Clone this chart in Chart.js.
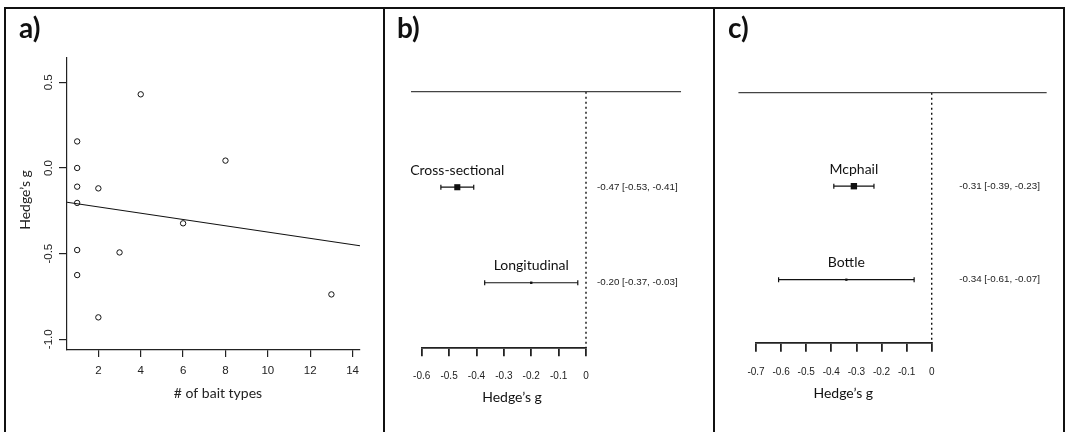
<!DOCTYPE html>
<html>
<head>
<meta charset="utf-8">
<script src="https://cdn.jsdelivr.net/npm/chart.js@4.4.1/dist/chart.umd.min.js"></script>
<style>
  body { margin: 0; background: #fff; }
  #wrap { position: relative; width: 1068px; height: 432px; overflow: hidden; background: #fff; }
  canvas { position: absolute; left: 0; top: 0; }
  .frame { position: absolute; background: #111; }
</style>
</head>
<body>
<div id="wrap">
  <div class="frame" style="left:4px;top:7px;width:1061px;height:2px"></div>
  <div class="frame" style="left:4px;top:7px;width:2px;height:430px"></div>
  <div class="frame" style="left:1063px;top:7px;width:2px;height:430px"></div>
  <div class="frame" style="left:383px;top:7px;width:2px;height:430px"></div>
  <div class="frame" style="left:713px;top:7px;width:2px;height:430px"></div>
  <canvas id="panel_a" width="1068" height="432"></canvas>
  <canvas id="panel_b" width="1068" height="432"></canvas>
  <canvas id="panel_c" width="1068" height="432"></canvas>
</div>
<script>
  // a) effect size vs number of bait types
  const baitTypes = [1, 1, 1, 1, 1, 1, 2, 2, 3, 4, 6, 8, 13]
  const baitHedgesG = [0.155, 0.0, -0.109, -0.204, -0.479, -0.625, -0.119, -0.872, -0.493, 0.43, -0.323, 0.043, -0.738]
  const fitLineX = [0.52, 14.35]
  const fitLineY = [-0.2, -0.454]
  const baitXTicks = [2, 4, 6, 8, 10, 12, 14]
  const baitYTicks = [-1.0, -0.5, 0.0, 0.5]

  // b) study design
  const designLabels = ["Cross-sectional", "Longitudinal"]
  const designEst = [-0.47, -0.20]
  const designLo = [-0.53, -0.37]
  const designHi = [-0.41, -0.03]
  const designTicks = [-0.6, -0.5, -0.4, -0.3, -0.2, -0.1, 0]
  const designHeaderSpan = [-0.639, 0.347]
  const designHeaderMark = [0.04]

  // c) trap type
  const trapLabels = ["Mcphail", "Bottle"]
  const trapEst = [-0.31, -0.34]
  const trapLo = [-0.39, -0.61]
  const trapHi = [-0.23, -0.07]
  const trapTicks = [-0.7, -0.6, -0.5, -0.4, -0.3, -0.2, -0.1, 0]
  const trapHeaderSpan = [-0.77, 0.458]
  const trapHeaderMark = [0.077]

  const rowY = [2, 1]
  const headerRow = 3
  const rowMin = 0.32

  const ink = '#111'
  const labelFont = 'Lato, "Open Sans", sans-serif'
  const tickFont = '"Liberation Sans", Arial, sans-serif'

  const fmtCI = (e, lo, hi) => `${e.toFixed(2)} [${lo.toFixed(2)}, ${hi.toFixed(2)}]`

  const drawTag = (ctx, text, x) => {
    ctx.font = `bold 28px ${labelFont}`
    ctx.fillStyle = ink
    ctx.textAlign = 'left'
    ctx.textBaseline = 'alphabetic'
    ctx.fillText(text, x, 38)
  }

  // ----- panel a -----
  new Chart(document.getElementById('panel_a'), {
    type: 'scatter',
    data: {
      datasets: [{
        data: baitTypes.map((x, i) => ({x: x, y: baitHedgesG[i]})),
        pointStyle: 'circle',
        pointRadius: 2.7,
        pointBorderWidth: 1,
        pointBorderColor: ink,
        pointBackgroundColor: 'rgba(255,255,255,0)'
      }, {
        data: fitLineX.map((x, i) => ({x: x, y: fitLineY[i]})),
        showLine: true,
        borderColor: ink,
        borderWidth: 1.1,
        pointRadius: 0
      }]
    },
    options: {
      responsive: false,
      animation: false,
      events: [],
      layout: {padding: {left: 37, top: 58, right: 708, bottom: 42}},
      plugins: {legend: {display: false}, tooltip: {enabled: false}},
      scales: {
        x: {
          type: 'linear', min: 0.52, max: 14.35,
          afterBuildTicks: s => { s.ticks = baitXTicks.map(v => ({value: v})) },
          afterFit: s => { s.height = 40 },
          border: {color: '#222', width: 1.2},
          grid: {drawOnChartArea: false, tickLength: 7, color: '#222', lineWidth: 1.2},
          ticks: {font: {family: tickFont, size: 11.5}, color: '#222', padding: 7, maxRotation: 0, autoSkip: false}
        },
        y: {
          type: 'linear', min: -1.0625, max: 0.642,
          afterBuildTicks: s => { s.ticks = baitYTicks.map(v => ({value: v})) },
          afterFit: s => { s.width = 30 },
          border: {color: '#222', width: 1.2},
          grid: {drawOnChartArea: false, tickLength: 8, color: '#222', lineWidth: 1.2},
          ticks: {display: false}
        }
      }
    },
    plugins: [{
      id: 'panelAText',
      afterDraw(chart) {
        const ctx = chart.ctx
        const yScale = chart.scales.y
        ctx.save()
        ctx.fillStyle = '#222'
        ctx.textAlign = 'center'
        ctx.textBaseline = 'middle'
        ctx.font = `11.5px ${tickFont}`
        yScale.ticks.forEach(t => {
          ctx.save()
          ctx.translate(49, yScale.getPixelForValue(t.value))
          ctx.rotate(-Math.PI / 2)
          ctx.fillText(t.value.toFixed(1), 0, 0)
          ctx.restore()
        })
        ctx.font = `14px ${labelFont}`
        ctx.save()
        ctx.translate(25, 200)
        ctx.rotate(-Math.PI / 2)
        ctx.fillText('Hedge\u2019s g', 0, 0)
        ctx.restore()
        ctx.fillText('# of bait types', 218, 393)
        drawTag(ctx, 'a)', 19)
        ctx.restore()
      }
    }]
  })

  // ----- forest panels -----
  const forestChart = (canvasId, cfg) => {
    const rows = cfg.labels.map((name, i) => i)
    const ciSets = rows.map(i => ({
      data: [{x: cfg.lo[i], y: rowY[i]}, {x: cfg.hi[i], y: rowY[i]}],
      showLine: true,
      borderColor: ink,
      borderWidth: 1.2,
      pointStyle: 'line',
      rotation: 90,
      pointRadius: 2.5,
      pointBorderWidth: 1.2,
      pointBorderColor: ink
    }))
    return new Chart(document.getElementById(canvasId), {
      type: 'scatter',
      data: {
        datasets: [{
          data: cfg.headerSpan.map(x => ({x: x, y: headerRow})),
          showLine: true,
          borderColor: '#444',
          borderWidth: 1.3,
          pointRadius: 0,
          clip: false
        }, {
          data: cfg.headerMark.map(x => ({x: x, y: headerRow})),
          pointStyle: 'rect',
          pointRadius: 1.1,
          pointBackgroundColor: ink,
          pointBorderWidth: 0,
          clip: false
        }, {
          data: [{x: 0, y: headerRow}, {x: 0, y: rowMin}],
          showLine: true,
          borderColor: ink,
          borderWidth: 1.4,
          borderDash: [2, 3],
          pointRadius: 0,
          clip: false
        },
        ...ciSets,
        {
          data: cfg.est.map((e, i) => ({x: e, y: rowY[i]})),
          pointStyle: 'rect',
          pointRadius: cfg.markRadius,
          pointBackgroundColor: ink,
          pointBorderWidth: 0,
          clip: false
        }]
      },
      options: {
        responsive: false,
        animation: false,
        events: [],
        layout: {padding: {left: cfg.left, top: cfg.top, right: 1068 - cfg.right, bottom: 432 - cfg.bottom - 40}},
        plugins: {legend: {display: false}, tooltip: {enabled: false}},
        scales: {
          x: {
            type: 'linear', min: cfg.ticks[0], max: 0,
            afterBuildTicks: s => { s.ticks = cfg.ticks.map(v => ({value: v})) },
            afterFit: s => { s.height = 40 },
            border: {color: '#222', width: 1.8},
            grid: {drawOnChartArea: false, tickLength: 8.5, color: '#222', lineWidth: 1.8},
            ticks: {
              font: {family: tickFont, size: 10}, color: '#222', padding: cfg.tickPad,
              maxRotation: 0, autoSkip: false,
              callback: v => v === 0 ? '0' : v.toFixed(1)
            }
          },
          y: {type: 'linear', min: rowMin, max: headerRow, display: false}
        }
      },
      plugins: [{
        id: 'forestText',
        afterDraw(chart) {
          const ctx = chart.ctx
          const xs = chart.scales.x
          const ys = chart.scales.y
          ctx.save()
          ctx.fillStyle = '#111'
          rows.forEach(i => {
            const py = ys.getPixelForValue(rowY[i])
            ctx.font = `14px ${labelFont}`
            ctx.textAlign = 'center'
            ctx.textBaseline = 'middle'
            ctx.fillText(cfg.labels[i], xs.getPixelForValue(cfg.est[i]), py - 17)
            ctx.font = `9.8px ${tickFont}`
            ctx.textAlign = 'left'
            ctx.fillStyle = '#222'
            ctx.fillText(fmtCI(cfg.est[i], cfg.lo[i], cfg.hi[i]), chart.chartArea.right + cfg.annotOffset, py)
            ctx.fillStyle = '#111'
          })
          ctx.font = `14px ${labelFont}`
          ctx.textAlign = 'center'
          ctx.textBaseline = 'middle'
          ctx.fillText('Hedge\u2019s g', cfg.titleX, cfg.titleY)
          drawTag(ctx, cfg.tag, cfg.tagX)
          ctx.restore()
        }
      }]
    })
  }

  forestChart('panel_b', {
    labels: designLabels, est: designEst, lo: designLo, hi: designHi,
    ticks: designTicks, headerSpan: designHeaderSpan, headerMark: designHeaderMark,
    markRadius: [4.3, 1.7],
    left: 421.7, right: 586, top: 91.7, bottom: 347.7, tickPad: 14.5,
    annotOffset: 11, titleX: 512, titleY: 397, tag: 'b)', tagX: 397
  })

  forestChart('panel_c', {
    labels: trapLabels, est: trapEst, lo: trapLo, hi: trapHi,
    ticks: trapTicks, headerSpan: trapHeaderSpan, headerMark: trapHeaderMark,
    markRadius: [4.5, 1.6],
    left: 756, right: 931.7, top: 92.7, bottom: 343.3, tickPad: 14,
    annotOffset: 27.6, titleX: 843.3, titleY: 393.5, tag: 'c)', tagX: 728
  })
</script>
</body>
</html>
